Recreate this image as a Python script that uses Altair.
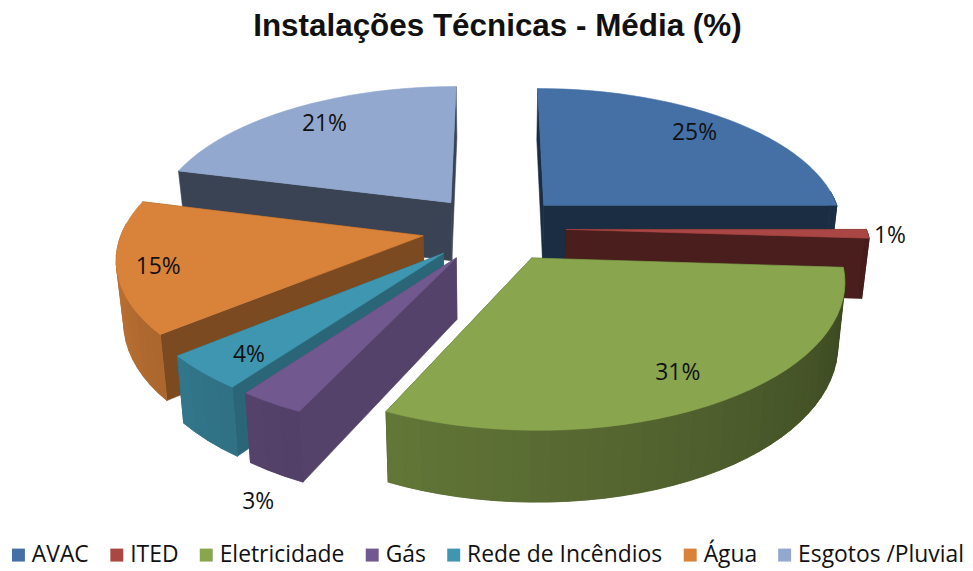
import math
import altair as alt

# --- chart values ---
categories = ["AVAC", "ITED", "Eletricidade", "Gás", "Rede de Incêndios", "Água", "Esgotos /Pluvial"]
values = [25, 1, 31, 3, 4, 15, 21]
labels = ["25%", "1%", "31%", "3%", "4%", "15%", "21%"]
title_text = "Instalações Técnicas - Média (%)"

# --- styling ---
top_colors = ["#4470a6", "#aa4643", "#89a54e", "#71588f", "#3f96b0", "#d8823a", "#92a8cf"]
radial_shade = [0.40, 0.43, 0.45, 0.75, 0.68, 0.57, 0.40]
draw_order = [6, 0, 1, 5, 4, 3, 2]
label_angle = [44, 92.7, 149.6, 200.3, 221.4, 255.5, 323.2]
label_radius = [0.82, 1.07, 0.815, 1.424, 0.846, 0.87, 0.808]

# --- 3-D pie geometry (page pixels) ---
CX, CY = 497, 228
RX, RY = 302, 140
PERSP = 0.14
EXPLODE = 0.24
DEPTH = 60
PAD_TOP = 45
PAGE = 8


def project(u, v, lower=False):
    w = 1 / (1 - PERSP * v)
    x = CX + RX * u * w
    y = CY + RY * v * w
    if lower:
        x = CX + (x - CX) * 0.98
        y = y + DEPTH * w
    return [round(x, 2), round(y, 2)]


def polar(apex, deg, r=1.0):
    a = math.radians(deg)
    return apex[0] + r * math.sin(a), apex[1] - r * math.cos(a)


def hex2rgb(c):
    return [int(c[i:i + 2], 16) for i in (1, 3, 5)]


def shade(c, f):
    return "#%02x%02x%02x" % tuple(min(255, int(round(p * f))) for p in hex2rgb(c))


def outer_shade(deg):
    return min(0.85, max(0.42, 0.42 + 0.30 * (deg - 95) / 110))


def poly(points, fill):
    ring = points + [points[0]]
    return {"type": "Feature", "fill": fill, "properties": {},
            "geometry": {"type": "Polygon", "coordinates": [ring]}}


total = sum(values)
starts = []
acc = 0
for val in values:
    starts.append(acc / total * 360)
    acc += val


def apex_of(i):
    mid = math.radians(starts[i] + values[i] / total * 180)
    return EXPLODE * math.sin(mid), -EXPLODE * math.cos(mid)


features = []
for i in draw_order:
    a0 = starts[i]
    a1 = a0 + values[i] / total * 360
    apex = apex_of(i)
    color = top_colors[i]
    n = max(2, int((a1 - a0) / 3))
    angles = [a0 + (a1 - a0) * k / n for k in range(n + 1)]
    rim = [polar(apex, a) for a in angles]
    dark = shade(color, radial_shade[i])
    for end in (rim[0], rim[-1]):
        features.append(poly([project(*apex), project(*end), project(*end, lower=True),
                              project(*apex, lower=True)], dark))
    front = [k for k in range(n) if 85 < (angles[k] + angles[k + 1]) / 2 < 275]
    if front:
        mean_f = sum(outer_shade((angles[k] + angles[k + 1]) / 2) for k in front) / len(front)
        top_edge = [project(*rim[k]) for k in front] + [project(*rim[front[-1] + 1])]
        low_edge = [project(*rim[k], lower=True) for k in front] + [project(*rim[front[-1] + 1], lower=True)]
        features.append(poly(top_edge + low_edge[::-1], shade(color, mean_f)))
    for k in front:
        p, q = rim[k], rim[k + 1]
        features.append(poly([project(*p), project(*q), project(*q, lower=True), project(*p, lower=True)],
                             shade(color, outer_shade((angles[k] + angles[k + 1]) / 2))))
    features.append(poly([project(*apex)] + [project(*p) for p in rim], color))

legend_rows = []
label_rows = []
for i, cat in enumerate(categories):
    apex = apex_of(i)
    lx, ly = project(*polar(apex, label_angle[i], label_radius[i]))
    label_rows.append({"label": labels[i], "lx": lx, "ly": ly})
    ax, ay = project(*apex)
    legend_rows.append({"series": cat, "value": values[i], "lx": ax, "ly": ay})

proj = dict(type="identity", scale=1, translate=[-PAGE, -PAGE - PAD_TOP])

legend_layer = (
    alt.Chart(alt.Data(values=legend_rows))
    .mark_square(size=1, opacity=1)
    .encode(
        longitude="lx:Q",
        latitude="ly:Q",
        color=alt.Color(
            "series:N",
            scale=alt.Scale(domain=categories, range=top_colors),
            sort=categories,
            legend=alt.Legend(
                title=None, orient="none", direction="horizontal", columns=7,
                legendX=-1, legendY=492, symbolType="square", symbolSize=170, symbolOpacity=1,
                symbolStrokeWidth=0, labelFont="Open Sans", labelFontSize=23, labelColor="#111111",
                labelOffset=2, columnPadding=16, padding=0, labelLimit=300,
            ),
        ),
    )
    .project(**proj)
)

shapes = (
    alt.Chart(alt.Data(values=features))
    .mark_geoshape(strokeWidth=0.6)
    .encode(fill=alt.Fill("fill:N", scale=None), stroke=alt.Stroke("fill:N", scale=None))
    .project(**proj)
)

texts = (
    alt.Chart(alt.Data(values=label_rows))
    .mark_text(font="Open Sans", fontSize=23, color="#111111")
    .encode(longitude="lx:Q", latitude="ly:Q", text="label:N")
    .project(**proj)
)

chart = (
    alt.layer(legend_layer, shapes, texts)
    .properties(
        width=963,
        height=562 - PAD_TOP,
        padding={"left": 0, "top": PAD_TOP, "right": 0, "bottom": 0},
        autosize=alt.AutoSizeParams(type="none"),
        title=alt.TitleParams(
            text=title_text, font="Liberation Sans", fontSize=31.6, fontWeight="bold",
            color="#111111", anchor="middle", dx=11, offset=12,
        ),
    )
    .configure_view(stroke=None)
)

chart.save("out.html", embed_options={"renderer": "svg", "actions": False})
